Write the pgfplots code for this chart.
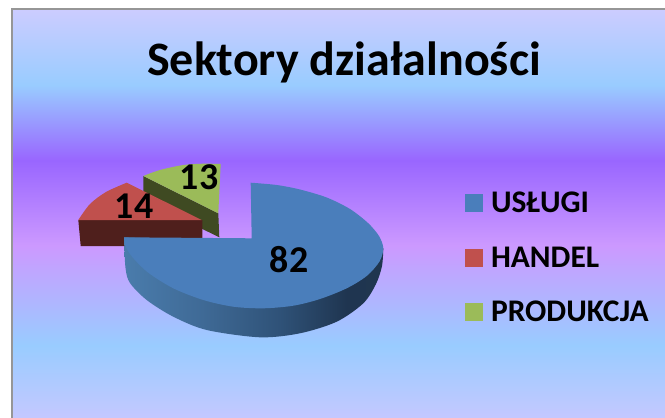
\documentclass[border=0pt]{standalone}
\usepackage{pgfplots}
\pgfplotsset{compat=1.18}
\usepackage{fontspec}
\setmainfont{Carlito}
\definecolor{usl}{HTML}{4A7EBB}
\definecolor{han}{HTML}{C0504D}
\definecolor{pro}{HTML}{9BBB59}
\definecolor{hanside}{HTML}{4F1F1C}
\definecolor{proside}{HTML}{3F4A22}
\definecolor{frame}{HTML}{969696}
\definecolor{bga}{HTML}{C4C8FF}
\definecolor{bgb}{HTML}{99CCFF}
\definecolor{bgc}{HTML}{CC99FF}
\definecolor{bgd}{HTML}{9966FF}
\definecolor{bge}{HTML}{CCCCFF}
\definecolor{sa}{HTML}{4A7CAC}
\definecolor{sb}{HTML}{3F6A96}
\definecolor{sc}{HTML}{2F5278}
\definecolor{sd}{HTML}{1F3550}
\definecolor{se}{HTML}{20364F}
\pgfdeclareverticalshading{chartbg}{100bp}{
 color(0bp)=(bga);
 color(25bp)=(bga);
 color(33.9bp)=(bgb);
 color(46.1bp)=(bgc);
 color(56.5bp)=(bgd);
 color(65.7bp)=(bgb);
 color(75bp)=(bge);
 color(100bp)=(bge)}
\pgfdeclarehorizontalshading{blueside}{100bp}{
 color(0bp)=(sa);
 color(25bp)=(sa);
 color(40bp)=(sb);
 color(55bp)=(sc);
 color(68bp)=(sd);
 color(75bp)=(se);
 color(100bp)=(se)}
\begin{document}
\begin{tikzpicture}
\begin{axis}[
  scale only axis, width=665bp, height=418bp,
  xmin=0, xmax=665, ymin=0, ymax=418, y dir=reverse,
  hide axis,
  legend cell align=left,
  legend style={at={(axis cs:465,192)}, anchor=north west, draw=none, fill=none,
    inner sep=0pt, outer sep=0pt, row sep=32.5bp,
    font=\fontsize{31.6}{32}\selectfont\bfseries,
    nodes={inner sep=0pt, anchor=west},
    /tikz/every odd column/.append style={column sep=8bp}},
  legend image code/.code={\fill[#1,draw=none] (0bp,-9bp) rectangle (18bp,9bp);},
]
\addplot[forget plot, fill=white, draw=none] coordinates {(0,0) (665,0) (665,418) (0,418)};
\addplot[forget plot, shading=chartbg, draw=frame, line width=1.6bp] coordinates {(12,418) (12,9) (670,9) (670,418)};
% green slice
\addplot[forget plot, fill=proside, draw=none] coordinates {(143.3,176) (218.3,213.3) (219.3,237.3) (143.3,200)};
\addplot[forget plot, fill=pro, draw=none, smooth] coordinates {(143.3,176) (160,170) (183.3,165) (203.3,163.7) (220.7,164)} -- (axis cs:218.3,213.3) -- cycle;
% red slice
\addplot[forget plot, fill=hanside, draw=none] coordinates {(78.3,220) (80.7,246) (202.3,246) (202.3,220)};
\addplot[forget plot, fill=han, draw=none, smooth] coordinates {(78.3,220) (90,204) (106,192) (126.7,182.7)} -- (axis cs:201.7,220) -- cycle;
% blue slice
\addplot[forget plot, shading=blueside, draw=none, smooth] coordinates {(124,237.3) (125.5,268) (130,283) (146.7,300) (173.3,316.7) (206.7,330) (260,337.3) (300,333.3) (336.7,321.7) (363.3,303.3) (376,284) (382,266) (383.3,248.3)};
\addplot[forget plot, fill=usl, draw=none, smooth] coordinates {(250.7,182.7) (276.7,185) (300,189.5) (326.7,197.5) (350,209) (368,223) (379,236) (383.3,248.3) (379.5,261.5) (366.7,276) (346.7,288.3) (320,299) (293.3,305.7) (263.3,308.3) (233.3,306.7) (203.3,300) (173.3,288.3) (148,272.5) (132,256.7) (125.5,246) (124,237.3)} -- (axis cs:251.7,238.3) -- cycle;
\addlegendimage{fill=usl}\addlegendentry{USŁUGI}
\addlegendimage{fill=han}\addlegendentry{HANDEL}
\addlegendimage{fill=pro}\addlegendentry{PRODUKCJA}
\node[font=\fontsize{48.2}{48}\selectfont\bfseries, anchor=base] at (axis cs:344,76) {Sektory działalności};
\node[font=\fontsize{38}{38}\selectfont\bfseries] at (axis cs:289,260) {82};
\node[font=\fontsize{38}{38}\selectfont\bfseries] at (axis cs:134,206) {14};
\node[font=\fontsize{38}{38}\selectfont\bfseries] at (axis cs:199,177) {13};
\end{axis}
\end{tikzpicture}
\end{document}
